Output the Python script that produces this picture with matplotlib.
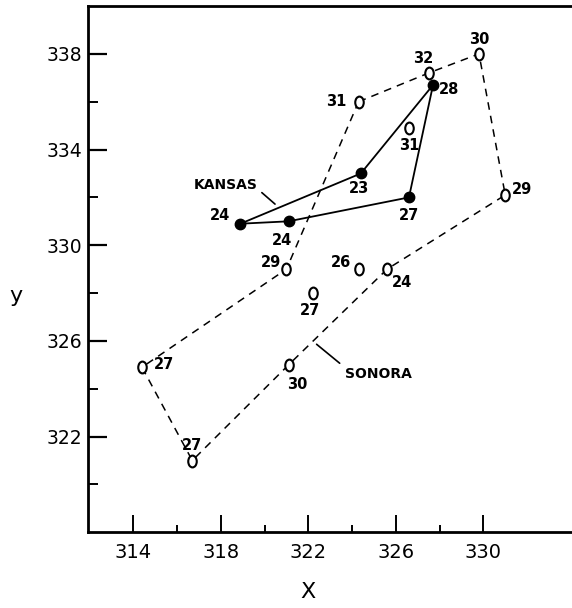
import numpy as np
import matplotlib as mlt
mlt.use('Agg')
import matplotlib.pyplot as plt
from matplotlib.path import Path
from matplotlib.transforms import Affine2D

# Kansas points (filled), in boundary order
kansas_x = [318.9, 321.1, 326.6, 327.7, 324.4]
kansas_y = [330.9, 331.0, 332.0, 336.7, 333.0]
kansas_lbl = ['24', '24', '27', '28', '23']

# Sonora points (open)
sonora_x = [324.3, 327.5, 329.8, 331.0, 325.6, 321.1, 316.7, 314.4, 321.0, 326.6, 324.3, 322.2]
sonora_y = [336.0, 337.2, 338.0, 332.1, 329.0, 325.0, 321.0, 324.9, 329.0, 334.9, 329.0, 328.0]
sonora_lbl = ['31', '32', '30', '29', '24', '30', '27', '27', '29', '31', '26', '27']
sonora_hull = [0, 1, 2, 3, 4, 5, 6, 7, 8, 0]

x_ticks = [314, 318, 322, 326, 330]
y_ticks = [322, 326, 330, 334, 338]

# label offsets in pixels
kansas_off = [(-20, 8), (-7, -19), (0, -18), (16, -5), (-2, -15)]
sonora_off = [(-22, 0), (-5, 15), (0, 14), (17, 6), (15, -13), (9, -20),
              (0, 15), (22, 3), (-15, 7), (0, -17), (-18, 7), (-3, -17)]

oval = Path.unit_circle().transformed(Affine2D().scale(0.72, 1.0))

fig = plt.figure(figsize=(5.72, 6.08), dpi=100)
ax = fig.add_axes([0.1533, 0.1245, 0.8467, 0.8656])

# Sonora dashed boundary + markers
hx = [sonora_x[i] for i in sonora_hull]
hy = [sonora_y[i] for i in sonora_hull]
ax.plot(hx, hy, color='black', lw=1.1, dashes=(5, 4))
ax.plot(sonora_x, sonora_y, ls='none', marker=oval, ms=8.5, mfc='white',
        mec='black', mew=1.5)

# Kansas solid boundary + markers
ax.plot(kansas_x + kansas_x[:1], kansas_y + kansas_y[:1], color='black', lw=1.3)
ax.plot(kansas_x, kansas_y, ls='none', marker='o', ms=7.5, color='black')

lbl_font = dict(fontsize=10.5, fontweight='bold', ha='center', va='center')
for x, y, t, o in zip(kansas_x, kansas_y, kansas_lbl, kansas_off):
    ax.annotate(t, (x, y), xytext=o, textcoords='offset pixels', **lbl_font)
for x, y, t, o in zip(sonora_x, sonora_y, sonora_lbl, sonora_off):
    ax.annotate(t, (x, y), xytext=o, textcoords='offset pixels', **lbl_font)

ax.annotate('KANSAS', (320.48, 331.72), xytext=(-17, 19), textcoords='offset pixels',
            fontsize=10, fontweight='bold', ha='right', va='center',
            arrowprops=dict(arrowstyle='-', lw=1.2, relpos=(1.0, 0.2), shrinkA=1, shrinkB=0))
ax.annotate('SONORA', (322.38, 325.86), xytext=(28, -30), textcoords='offset pixels',
            fontsize=10, fontweight='bold', ha='left', va='center',
            arrowprops=dict(arrowstyle='-', lw=1.2, relpos=(0.0, 1.0), shrinkA=2, shrinkB=0))

ax.set_xlim(311.92, 334.05)
ax.set_ylim(318, 340)
ax.set_xticks(x_ticks)
ax.set_xticks([316, 320, 324, 328], minor=True)
ax.set_yticks(y_ticks)
ax.set_yticks([320, 324, 328, 332, 336], minor=True)
ax.tick_params(axis='x', which='major', direction='in', length=12, width=1.4, labelsize=14, pad=8)
ax.tick_params(axis='x', which='minor', direction='in', length=5, width=1.4)
ax.tick_params(axis='y', which='major', direction='in', length=13.5, width=1.6, labelsize=13.5, pad=4)
ax.tick_params(axis='y', which='minor', direction='in', length=7, width=1.4)

for s in ['left', 'top', 'bottom']:
    ax.spines[s].set_linewidth(2)
ax.spines['right'].set_visible(False)

fig.text(308 / 572, 1 - 592 / 608, 'X', fontsize=16, ha='center', va='center')
fig.text(16 / 572, 1 - 296 / 608, 'y', fontsize=16, ha='center', va='center')

fig.savefig('out.png', dpi=100)
